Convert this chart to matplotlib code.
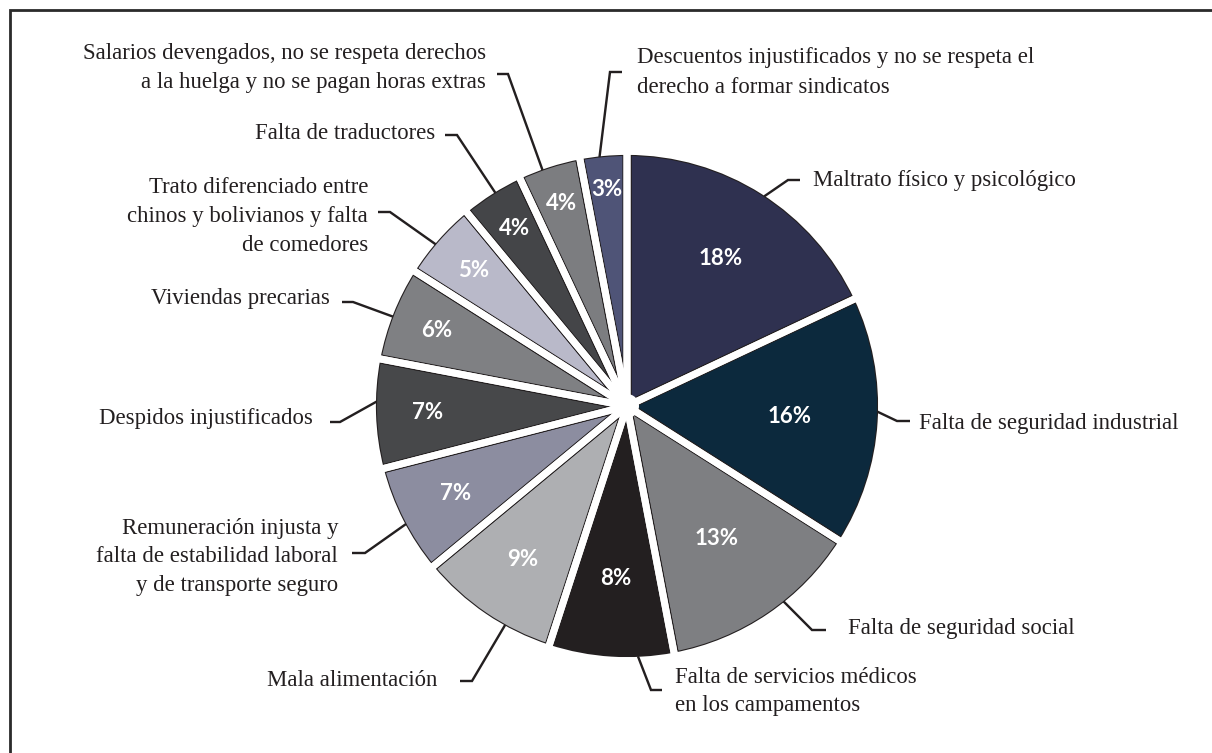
import matplotlib
matplotlib.use("Agg")
import matplotlib.pyplot as plt
from matplotlib.patches import Wedge, Circle
import numpy as np

# ---------------- data ----------------
categories = [
    "Maltrato físico y psicológico",
    "Falta de seguridad industrial",
    "Falta de seguridad social",
    "Falta de servicios médicos\nen los campamentos",
    "Mala alimentación",
    "Remuneración injusta y\nfalta de estabilidad laboral\ny de transporte seguro",
    "Despidos injustificados",
    "Viviendas precarias",
    "Trato diferenciado entre\nchinos y bolivianos y falta\nde comedores",
    "Falta de traductores",
    "Salarios devengados, no se respeta derechos\na la huelga y no se pagan horas extras",
    "Descuentos injustificados y no se respeta el\nderecho a formar sindicatos",
]
values = [18, 16, 13, 8, 9, 7, 7, 6, 5, 4, 4, 3]
pct_labels = [f"{v}%" for v in values]
colors = ["#2f3150", "#0c293d", "#7e7f82", "#231f20", "#aeafb2", "#8c8da0",
          "#47484a", "#7f8083", "#b9b9c9", "#444548", "#7c7d80", "#4f5477"]

# ---------------- layout (pixels, top-left origin) ----------------
W, H, DPI = 1212, 753, 100
PT = 72.0 / DPI
CX, CY = 627, 406
R_VIS = 250.0
GAP = 7.0
OUT = 1.1
R = R_VIS + GAP / 2 + OUT
DARK = "#231f20"

pct_radius = [0.70, 0.65, 0.64, 0.69, 0.74, 0.77, 0.80, 0.82, 0.82, 0.84, 0.85, 0.87]

# label placement: (text x, first line centre y, line step, ha,
#                   anchor angle on pie, elbow (x, y), dash end x)
label_layout = [
    (813, 180, 29, "left", 56.8, (788, 180), 800),
    (919, 423, 29, "left", -1.3, (897, 421), 910),
    (848, 628, 29, "left", -51.3, (812, 630), 826),
    (675, 677, 28, "left", 272.5, (651, 690), 662),
    (437, 680, 29, "right", 240.9, (472, 681), 460),
    (338, 528, 28.5, "right", 208.1, (365, 553), 352),
    (313, 418, 29, "right", 179.0, (340, 422), 330),
    (330, 298, 29, "right", 159.1, (353, 302), 342),
    (368, 187, 29, "right", 139.8, (390, 212), 378),
    (435, 133, 29, "right", 121.7, (457, 135), 445),
    (486, 53, 29, "right", 109.7, (508, 74), 497),
    (637, 57, 30, "left", 96.3, (610, 72), 622),
]


def P(x, y):
    return (x, H - y)


fig = plt.figure(figsize=(W / DPI, H / DPI), dpi=DPI)
ax = fig.add_axes([0, 0, 1, 1])
center = P(CX, CY)

# pass A: colored wedges with thick dark edge
wedges, _ = ax.pie(values, colors=colors, startangle=90, counterclock=False,
                   radius=R, center=center,
                   wedgeprops=dict(edgecolor=DARK, linewidth=(GAP + 2 * OUT) * PT,
                                   joinstyle="round"))
# pass B: white gap in the middle of the dark edge
ax.pie(values, colors=["white"] * len(values), startangle=90, counterclock=False,
       radius=R, center=center,
       wedgeprops=dict(edgecolor="white", facecolor="none", linewidth=GAP * PT,
                       joinstyle="round"))
# pass C: clean outer halo
ax.add_patch(Wedge(center, R + 30, 0, 360, width=R + 30 - (R_VIS + OUT + GAP / 2),
                   facecolor="white", edgecolor="none", zorder=3))
ax.add_patch(Circle(center, 12, facecolor="white", edgecolor="none", zorder=3))

# percentage labels
for w, lab, fr in zip(wedges, pct_labels, pct_radius):
    ang = np.deg2rad((w.theta1 + w.theta2) / 2)
    x = center[0] + fr * R_VIS * np.cos(ang)
    y = center[1] + fr * R_VIS * np.sin(ang)
    ax.text(x, y, lab, ha="center", va="center", color="white",
            fontfamily="Lato", fontweight="bold", fontsize=16, zorder=5)

# category labels with leader lines
for cat, (tx, ty, step, ha, aang, elbow, dx) in zip(categories, label_layout):
    for i, line in enumerate(cat.split("\n")):
        bx, by = P(tx, ty + i * step + 6)
        ax.text(bx, by, line, ha=ha, va="baseline", fontfamily="Liberation Serif",
                fontsize=16.4, color="#231f20", zorder=5)
    a = np.deg2rad(aang)
    sx = center[0] + (R_VIS + 0.5) * np.cos(a)
    sy = center[1] + (R_VIS + 0.5) * np.sin(a)
    ex, ey = P(*elbow)
    ax.plot([sx, ex, dx], [sy, ey, ey], color=DARK, lw=2.4 * PT,
            solid_joinstyle="miter", solid_capstyle="butt", zorder=4)

# frame
ax.plot([9.5, 9.5, W], [0, H - 9.5, H - 9.5], color="#2b2b2b", lw=2.8 * PT,
        solid_joinstyle="miter", solid_capstyle="projecting", zorder=6)

ax.set_xlim(0, W)
ax.set_ylim(0, H)
ax.set_aspect("auto")
ax.axis("off")
fig.savefig("out.png", dpi=DPI, facecolor="white")
